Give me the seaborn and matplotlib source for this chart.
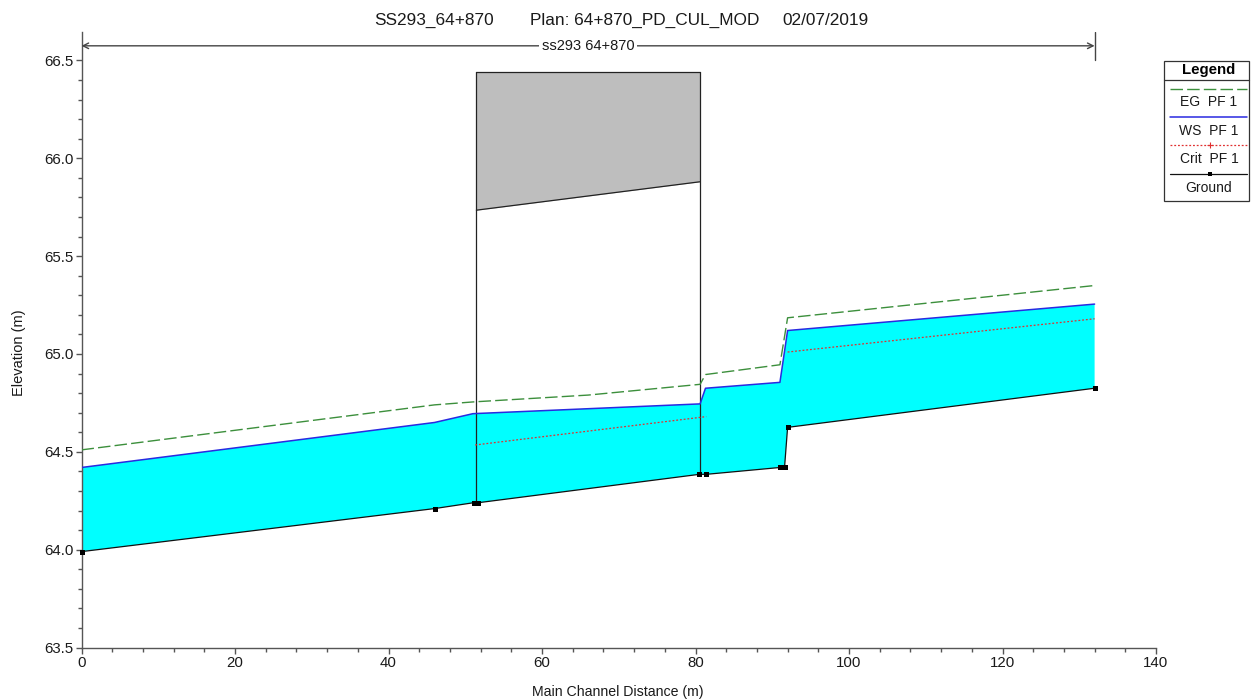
import matplotlib
matplotlib.use("Agg")
import matplotlib.pyplot as plt
import seaborn as sns
import pandas as pd
from matplotlib.patches import Rectangle

# ---- data ----
ground_x = [0, 46.0, 51.1, 51.7, 80.5, 81.4, 91.0, 91.6, 92.0, 132.0]
ground_y = [63.99, 64.21, 64.24, 64.24, 64.385, 64.385, 64.42, 64.42, 64.625, 64.825]
ws_x = [0, 46.0, 51.0, 80.6, 81.3, 91.0, 92.0, 132.0]
ws_y = [64.42, 64.65, 64.695, 64.745, 64.825, 64.855, 65.12, 65.255]
eg_x = [0, 46.0, 51.0, 66.0, 80.6, 81.3, 91.0, 92.0, 132.0]
eg_y = [64.51, 64.74, 64.755, 64.79, 64.845, 64.895, 64.945, 65.185, 65.35]
crit1_x = [51.3, 81.4]
crit1_y = [64.535, 64.68]
crit2_x = [92.0, 132.0]
crit2_y = [65.01, 65.18]
culvert_x = [51.45, 80.55]
culvert_top = [66.44, 66.44]
culvert_soffit = [65.735, 65.88]
culvert_invert = [64.24, 64.385]
reach_name = "ss293 64+870"
reach_x = [0, 132.0]
reach_level = 66.575
title_parts = ["SS293_64+870", "Plan: 64+870_PD_CUL_MOD", "02/07/2019"]
legend_names = ["EG  PF 1", "WS  PF 1", "Crit  PF 1", "Ground"]
x_major = [0, 20, 40, 60, 80, 100, 120, 140]
y_major = [63.5, 64.0, 64.5, 65.0, 65.5, 66.0, 66.5]

W, H = 1252, 699
sns.set_theme(style="white")
plt.rcParams["font.family"] = ["Liberation Sans", "DejaVu Sans"]
TXT = "#1a1a1a"; AXC = "#555555"
EG = "#3c8f3c"; WS = "#2a2ae0"; CR = "#e03030"; GR = "#111111"

fig = plt.figure(figsize=(W / 100, H / 100), dpi=100, facecolor="white")
ax = fig.add_axes([81.5 / W, 1 - 647.5 / H, (1156 - 81.5) / W, (647.5 - 32) / H])
ax.set_xlim(0, 140)
ax.set_ylim(63.5, 63.5 + (647.5 - 32) / 195.67)

# water
poly_x = ws_x + ground_x[::-1]
poly_y = ws_y + ground_y[::-1]
ax.fill(poly_x, poly_y, color="#00ffff", lw=0, zorder=1)

# culvert
ax.fill_between(culvert_x, culvert_soffit, culvert_top, color="#bebebe", lw=0, zorder=2)
ck = dict(color="#222222", lw=0.9, zorder=3)
ax.plot(culvert_x, culvert_soffit, **ck)
for i in range(2):
    ax.plot([culvert_x[i]] * 2, [culvert_invert[i], culvert_top[i]], **ck)
ax.plot(culvert_x, culvert_top, **ck)

def draw(x, y, **kw):
    sns.lineplot(data=pd.DataFrame({"x": x, "y": y}), x="x", y="y", sort=False,
                 estimator=None, errorbar=None, ax=ax, legend=False, **kw)

draw(eg_x, eg_y, color=EG, lw=1.0, dashes=(9, 3), zorder=4)
draw(ws_x, ws_y, color=WS, lw=1.1, zorder=5)
draw(crit1_x, crit1_y, color=CR, lw=0.9, dashes=(1.5, 1.5), zorder=5)
draw(crit2_x, crit2_y, color=CR, lw=0.9, dashes=(1.5, 1.5), zorder=5)
draw(ground_x, ground_y, color=GR, lw=0.9, marker="s", markersize=3.6,
     markeredgewidth=0, markerfacecolor="black", zorder=6, clip_on=False)

# reach arrow
ax.annotate("", xy=(reach_x[0], reach_level), xytext=(reach_x[1], reach_level),
            arrowprops=dict(arrowstyle="<->", color="#444444", lw=1.0, shrinkA=0, shrinkB=0,
                            mutation_scale=10))
ax.plot([reach_x[1]] * 2, [66.5, ax.get_ylim()[1]], color="#444444", lw=1.0)
ax.text(sum(reach_x) / 2, reach_level, reach_name, ha="center", va="center", fontsize=10.5,
        color=TXT, bbox=dict(fc="white", ec="none", pad=2.2), zorder=7)

# axes
sns.despine(ax=ax)
for s in ("left", "bottom"):
    ax.spines[s].set_color(AXC); ax.spines[s].set_linewidth(1.0)
ax.set_xticks(x_major); ax.set_yticks(y_major)
ax.set_yticklabels([f"{v:.1f}" for v in y_major])
ax.set_xticks([v for v in range(0, 141, 4) if v % 20], minor=True)
ax.set_yticks([63.5 + i * 0.1 for i in range(31) if i % 5], minor=True)
ax.tick_params(which="major", direction="out", length=4.5, width=1, color=AXC, labelsize=10.8,
               labelcolor=TXT, pad=1.5, bottom=True, left=True)
ax.tick_params(which="minor", direction="out", length=3, width=1, color=AXC, bottom=True, left=True)
ax.set_xlabel("")
ax.set_ylabel("")
fig.text(618 / W, 1 - 692 / H, "Main Channel Distance (m)", ha="center", va="center", fontsize=10.2, color=TXT)
fig.text(19 / W, 1 - 353 / H, "Elevation (m)", rotation=90, ha="center", va="center", fontsize=10.5, color=TXT)

# title pieces
for s, px in zip(title_parts, [374, 530, 782]):
    fig.text(px / W, 1 - 25 / H, s, ha="left", va="baseline", fontsize=12.4, color=TXT)

# legend panel
lg = fig.add_axes([0, 0, 1, 1], facecolor="none")
lg.set_xlim(0, W); lg.set_ylim(H, 0); lg.axis("off")
lg.add_patch(Rectangle((1163.5, 60.5), 85, 140.5, fc="white", ec="#333333", lw=0.9))
lg.plot([1163.5, 1248.5], [80, 80], color="#333333", lw=0.9)
lg.text(1209, 74, "Legend", ha="center", va="baseline", fontsize=10.8, fontweight="bold", color="black")
ys = [88.5, 117, 145, 173.5]
styles = [dict(color=EG, lw=1, dashes=(9, 3)), dict(color=WS, lw=1.1),
          dict(color=CR, lw=0.9, dashes=(1.5, 1.5)), dict(color=GR, lw=0.9)]
for nm, y0, st in zip(legend_names, ys, styles):
    lg.plot([1170, 1247], [y0, y0], **st)
    lg.text(1209, y0 + 18, nm, ha="center", va="baseline", fontsize=10, color=TXT)
lg.plot([1209.5], [145], marker="+", ms=4, color=CR, mew=0.8)
lg.plot([1209.5], [173.5], marker="s", ms=3, color="black", mew=0)

fig.savefig("out.png", dpi=100, facecolor="white")
